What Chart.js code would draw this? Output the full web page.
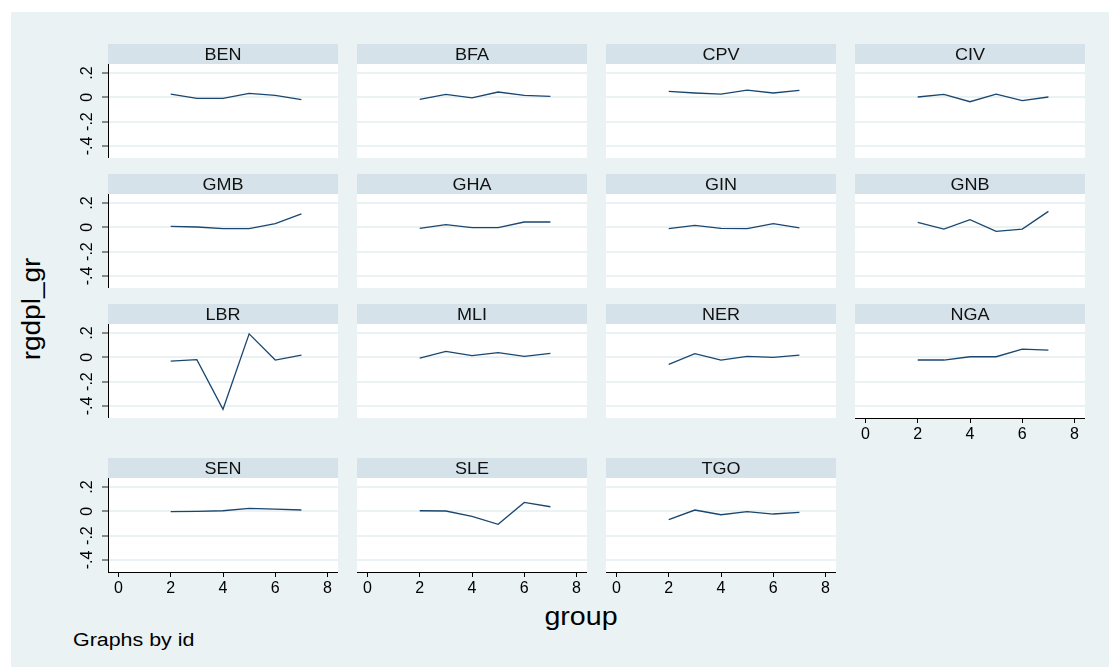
<!DOCTYPE html>
<html>
<head>
<meta charset="utf-8">
<script src="https://cdn.jsdelivr.net/npm/chart.js@4.4.0/dist/chart.umd.min.js"></script>
<style>
  html, body { margin: 0; padding: 0; background: #ffffff; }
  #page { position: absolute; left: 0; top: 0; width: 1109px; height: 667px; overflow: hidden; }
  #frame { position: absolute; left: 11px; top: 12px; width: 1098px; height: 655px; background: #eaf2f3; }
  canvas { position: absolute; }
  .t { position: absolute; font-family: "Liberation Sans", Arial, sans-serif; color: #000; white-space: nowrap; line-height: 1; }
</style>
</head>
<body>
<div id="page">
  <div id="frame"></div>
  <div class="t" id="ytitle" style="left:31px; top:309px; font-size:25px; transform: translate(-50%,-50%) rotate(-90deg) scaleX(1.12);">rgdpl_gr</div>
  <div class="t" id="xtitle" style="left:581px; top:616px; font-size:26px; transform: translate(-50%,-50%) scaleX(1.1);">group</div>
  <div class="t" id="note" style="left:73px; top:631px; font-size:18px; transform-origin: left top; transform: scaleX(1.19);">Graphs by id</div>
</div>
<script>
// Growth of real GDP per capita (rgdpl_gr) by group, one panel per country id
const countries = ['BEN', 'BFA', 'CPV', 'CIV', 'GMB', 'GHA', 'GIN', 'GNB', 'LBR', 'MLI', 'NER', 'NGA', 'SEN', 'SLE', 'TGO'];
const group = [2, 3, 4, 5, 6, 7];

const BEN = [0.027, -0.008, -0.008, 0.033, 0.016, -0.019];
const BFA = [-0.016, 0.025, -0.005, 0.044, 0.016, 0.008];
const CPV = [0.049, 0.036, 0.027, 0.060, 0.036, 0.058];
const CIV = [0.003, 0.025, -0.036, 0.027, -0.027, 0.003];
const GMB = [0.008, 0.003, -0.011, -0.011, 0.031, 0.111];
const GHA = [-0.008, 0.022, -0.003, -0.003, 0.044, 0.044];
const GIN = [-0.011, 0.016, -0.008, -0.011, 0.030, -0.005];
const GNB = [0.041, -0.014, 0.063, -0.033, -0.014, 0.132];
const LBR = [-0.031, -0.019, -0.428, 0.194, -0.022, 0.019];
const MLI = [-0.006, 0.050, 0.014, 0.039, 0.008, 0.033];
const NER = [-0.058, 0.030, -0.022, 0.008, 0.000, 0.019];
const NGA = [-0.022, -0.022, 0.005, 0.005, 0.068, 0.060];
const SEN = [-0.003, 0.000, 0.005, 0.025, 0.019, 0.011];
const SLE = [0.005, 0.003, -0.041, -0.107, 0.074, 0.038];
const TGO = [-0.069, 0.011, -0.028, -0.003, -0.022, -0.008];

const seriesById = { BEN, BFA, CPV, CIV, GMB, GHA, GIN, GNB, LBR, MLI, NER, NGA, SEN, SLE, TGO };

const xTicks = [0, 2, 4, 6, 8];
const yTicks = [-0.4, -0.2, 0, 0.2];
const yTickLabels = ['-.4', '-.2', '0', '.2'];

// panel grid geometry
const plotLefts = [108, 357, 606, 855];
const stripTops = [44, 174, 304, 458];
const plotW = 230, plotH = 94, stripH = 20;
const bottomPanels = ['NGA', 'SEN', 'SLE', 'TGO'];

const NAVY = '#1a476f';
const GRID = '#eaf2f3';
const STRIP = '#d6e2e9';
const FONT = '"Liberation Sans", Arial, sans-serif';

// white plot region + strip heading above it
const panelDecor = {
  id: 'panelDecor',
  beforeDraw(chart, args, opts) {
    const { ctx, chartArea: a } = chart;
    ctx.save();
    ctx.fillStyle = '#ffffff';
    ctx.fillRect(a.left, a.top, a.right - a.left, a.bottom - a.top);
    ctx.fillStyle = STRIP;
    ctx.fillRect(a.left, a.top - stripH, a.right - a.left, stripH);
    ctx.fillStyle = '#111';
    ctx.font = '17px ' + FONT;
    ctx.textAlign = 'center';
    ctx.textBaseline = 'alphabetic';
    const cx = (a.left + a.right) / 2;
    ctx.translate(cx, a.top - stripH + 15.5);
    ctx.scale(1.06, 1);
    ctx.fillText(opts.title, 0, 0);
    ctx.restore();
  }
};

const page = document.getElementById('page');

countries.forEach((id, i) => {
  const row = Math.floor(i / 4), col = i % 4;
  const showY = col === 0;
  const showX = bottomPanels.includes(id);
  const yW = showY ? 50 : 0;
  const xH = showX ? 34 : 0;

  const cv = document.createElement('canvas');
  const w = yW + plotW, h = stripH + plotH + xH;
  cv.width = w; cv.height = h;
  cv.style.left = (plotLefts[col] - yW) + 'px';
  cv.style.top = stripTops[row] + 'px';
  cv.style.width = w + 'px'; cv.style.height = h + 'px';
  page.appendChild(cv);

  new Chart(cv, {
    type: 'line',
    data: {
      datasets: [{
        data: group.map((g, k) => ({ x: g, y: seriesById[id][k] })),
        borderColor: NAVY,
        borderWidth: 1.3,
        pointRadius: 0,
        tension: 0,
        fill: false
      }]
    },
    options: {
      responsive: false,
      animation: false,
      devicePixelRatio: 1,
      events: [],
      layout: { padding: { top: stripH, left: 0, right: 0, bottom: 0 } },
      plugins: { legend: { display: false }, tooltip: { enabled: false }, panelDecor: { title: id } },
      scales: {
        x: {
          type: 'linear',
          min: -0.4, max: 8.4,
          display: showX,
          afterBuildTicks: s => { s.ticks = xTicks.map(v => ({ value: v })); },
          afterFit: s => { s.height = xH; s.paddingLeft = 0; s.paddingRight = 0; },
          grid: { display: true, drawOnChartArea: false, drawTicks: true, tickLength: 5, tickColor: '#000', tickWidth: 1 },
          border: { display: true, color: '#000', width: 1 },
          ticks: { color: '#000', font: { family: FONT, size: 16 }, padding: 2, maxRotation: 0, callback: v => String(v) }
        },
        y: {
          type: 'linear',
          min: -0.5, max: 0.275,
          afterBuildTicks: s => { s.ticks = yTicks.map(v => ({ value: v })); },
          afterFit: s => { s.width = yW; s.paddingTop = 0; s.paddingBottom = 0; },
          grid: { display: true, drawOnChartArea: true, color: GRID, lineWidth: 2, drawTicks: showY, tickLength: 6, tickColor: '#222', tickWidth: 1 },
          border: { display: showY, color: '#000', width: 1 },
          ticks: {
            display: showY,
            color: '#000',
            font: { family: FONT, size: 16 },
            minRotation: 90, maxRotation: 90,
            crossAlign: 'center',
            padding: 5,
            callback: v => yTickLabels[yTicks.findIndex(t => Math.abs(t - v) < 1e-9)]
          }
        }
      }
    },
    plugins: [panelDecor]
  });
});
</script>
</body>
</html>
